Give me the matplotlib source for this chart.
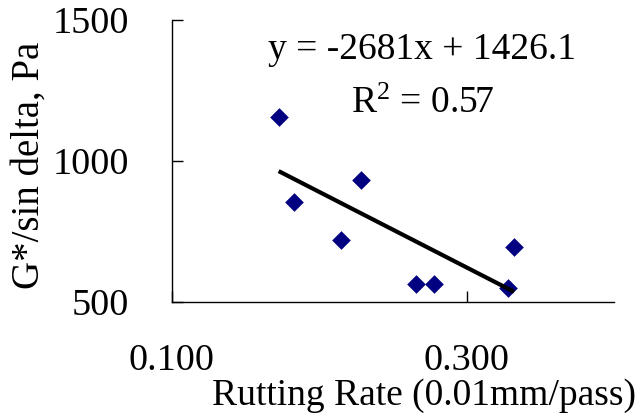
import matplotlib
matplotlib.use("Agg")
import matplotlib.pyplot as plt
import numpy as np

# Rutting rate (0.01 mm/pass) vs. G*/sin delta (Pa)
rutting_rate = [0.1723, 0.1829, 0.2144, 0.2279, 0.2654, 0.2778, 0.3276, 0.3319]
g_sin_delta = [1155, 855, 721, 934, 564, 564, 549, 696]

# Linear trend line reported on the chart
slope = -2681
intercept = 1426.1
r_squared = 0.57

x_ticks = [0.1, 0.3]
x_tick_labels = ["0.100", "0.300"]
y_ticks = [500, 1000, 1500]

plt.rcParams["font.family"] = ["Liberation Serif", "DejaVu Serif"]
plt.rcParams["mathtext.fontset"] = "custom"
plt.rcParams["mathtext.rm"] = "Liberation Serif"
plt.rcParams["mathtext.it"] = "Liberation Serif:italic"

W, H = 639, 413
fig = plt.figure(figsize=(W / 100, H / 100), dpi=100)
ax = fig.add_axes([172 / W, 1 - 302 / H, (614.5 - 172) / W, (302 - 20) / H])

ax.scatter(rutting_rate, g_sin_delta, marker="D", s=9.5 ** 2,
           color="#000080", linewidths=0, zorder=3)

x_fit = np.array([min(rutting_rate), max(rutting_rate)])
ax.plot(x_fit, slope * x_fit + intercept, color="black", lw=3, zorder=4,
        solid_capstyle="butt")

ax.set_xlim(0.1, 0.4)
ax.set_ylim(500, 1500)
ax.set_xticks(x_ticks)
ax.set_xticklabels(x_tick_labels)
ax.set_yticks(y_ticks)

for s in ["top", "right"]:
    ax.spines[s].set_visible(False)
for s in ["left", "bottom"]:
    ax.spines[s].set_linewidth(1.0)

ax.tick_params(direction="in", length=8, width=1, labelsize=27.5)
ax.tick_params(axis="y", pad=31)
ax.tick_params(axis="x", pad=30)

fig.text(29 / W, 1 - 165 / H, "G*/sin delta, Pa", fontsize=28,
         rotation=90, ha="center", va="center")

fig.text(424 / W, 1 - 405 / H, "Rutting Rate (0.01mm/pass)",
         fontsize=27, ha="center", va="baseline")

fig.text(421.5 / W, 1 - 59 / H, f"y = {slope}x + {intercept}",
         fontsize=27, ha="center", va="baseline")
fig.text(423 / W, 1 - 113 / H, f"R$^{{2}}$ = {r_squared}",
         fontsize=27, ha="center", va="baseline")

fig.savefig("out.png", dpi=100)
